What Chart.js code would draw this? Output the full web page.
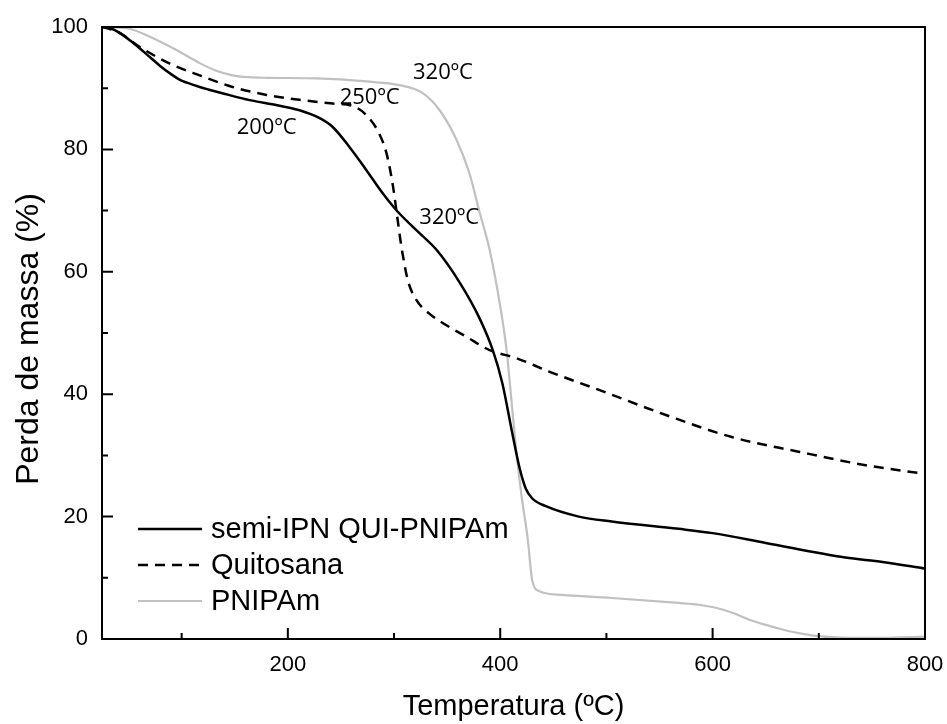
<!DOCTYPE html>
<html><head><meta charset="utf-8">
<script src="https://cdn.jsdelivr.net/npm/chart.js@4/dist/chart.umd.min.js"></script>
<style>html,body{margin:0;padding:0;background:#fff}#wrap{width:947px;height:724px;position:relative}</style>
</head><body><div id="wrap"><canvas id="c" width="947" height="724"></canvas></div>
<script>
// ---- data ----
const semiT = [25, 33, 42, 55, 70, 80, 90, 98, 105, 117, 125, 140, 164, 190, 211, 230, 242, 258, 274, 289, 302, 321, 340, 362, 380, 393, 402, 411.5, 418, 424, 430, 443, 474, 505, 568, 600, 650, 725, 760, 800];
const semiV = [100, 99.8, 99.0, 97.3, 95.1, 93.6, 92.3, 91.4, 90.9, 90.2, 89.8, 89.1, 88.05, 87.2, 86.4, 85.1, 83.7, 80.4, 76.6, 72.9, 70.1, 66.8, 63.6, 58.2, 52.6, 47.2, 41.8, 33.5, 28.1, 24.6, 23.0, 21.7, 20.0, 19.2, 18.0, 17.3, 15.7, 13.3, 12.6, 11.5];

const quiT = [25, 40, 61, 89, 117, 148, 180, 211, 242, 261, 274, 286, 293, 299, 303, 306, 308, 313, 321, 333, 349, 368, 390, 415, 446, 493, 556, 618, 681, 744, 787, 800];
const quiV = [100, 99.2, 96.7, 94.0, 92.1, 90.2, 88.9, 88.1, 87.5, 87.1, 85.6, 82.6, 79.3, 74.0, 69.0, 65.2, 63.0, 58.6, 55.4, 53.2, 51.3, 49.4, 47.2, 45.9, 43.7, 40.7, 36.6, 33.0, 30.6, 28.4, 27.3, 27.0];

const pnT = [25, 48.5, 70, 95.5, 117, 132, 148, 163, 180, 227, 274, 305, 327, 343, 359, 371, 380, 390, 399, 406, 410.5, 415, 420, 426, 430, 437, 458, 505, 568, 587, 603, 620, 634, 650, 665, 680, 697, 712, 728, 760, 800];
const pnV = [100, 99.8, 98.4, 96.2, 94.1, 92.9, 92.1, 91.8, 91.7, 91.6, 91.1, 90.5, 89.2, 86.4, 81.5, 76.1, 70.1, 63.6, 55.4, 47.2, 39.1, 30.9, 23.5, 16.2, 9.7, 7.8, 7.2, 6.7, 5.9, 5.6, 5.1, 4.2, 3.2, 2.3, 1.6, 1.0, 0.5, 0.3, 0.2, 0.2, 0.4];

const seriesNames = ['semi-IPN QUI-PNIPAm', 'Quitosana', 'PNIPAm'];

const xMajorTicks = [200, 400, 600, 800];
const xMinorTicks = [100, 300, 500, 700];
const yMajorTicks = [0, 20, 40, 60, 80, 100];
const yMinorTicks = [10, 30, 50, 70, 90];

const annoText = ['200ºC', '250ºC', '320ºC', '320ºC'];
const annoT = [180, 277, 346, 352];
const annoV = [83.6, 88.5, 92.5, 68.8];

const xTitle = 'Temperatura (ºC)';
const yTitle = 'Perda de massa (%)';

// ---- build ----
const zip = (a, b) => a.map((x, i) => ({x: x, y: b[i]}));
const SANS = '"Liberation Sans", Arial, sans-serif';

const frameTicks = {
  id: 'frameTicks',
  afterDatasetsDraw(chart) {
    const ctx = chart.ctx, ca = chart.chartArea;
    const xs = chart.scales.x, ys = chart.scales.y;
    ctx.save();
    ctx.strokeStyle = '#000';
    ctx.lineWidth = 2;
    ctx.lineCap = 'butt';
    ctx.beginPath();
    xMajorTicks.forEach(v => { const p = xs.getPixelForValue(v); ctx.moveTo(p, ca.bottom); ctx.lineTo(p, ca.bottom - 11); });
    xMinorTicks.forEach(v => { const p = xs.getPixelForValue(v); ctx.moveTo(p, ca.bottom); ctx.lineTo(p, ca.bottom - 6); });
    yMajorTicks.forEach(v => { const p = ys.getPixelForValue(v); ctx.moveTo(ca.left, p); ctx.lineTo(ca.left + 11, p); });
    yMinorTicks.forEach(v => { const p = ys.getPixelForValue(v); ctx.moveTo(ca.left, p); ctx.lineTo(ca.left + 6, p); });
    ctx.stroke();
    ctx.strokeRect(ca.left, ca.top, ca.right - ca.left, ca.bottom - ca.top);

    // annotations
    ctx.fillStyle = '#000';
    ctx.font = '22px "Open Sans", "DejaVu Sans", sans-serif';
    ctx.textAlign = 'center';
    ctx.textBaseline = 'middle';
    annoText.forEach((t, i) => ctx.fillText(t, xs.getPixelForValue(annoT[i]), ys.getPixelForValue(annoV[i])));

    // legend
    ctx.font = '29px ' + SANS;
    ctx.textAlign = 'left';
    chart.data.datasets.forEach((ds, i) => {
      const y = ca.bottom - 110 + i * 36;
      ctx.save();
      ctx.strokeStyle = ds.borderColor;
      ctx.lineWidth = ds.borderWidth;
      ctx.setLineDash(ds.borderDash || []);
      ctx.beginPath();
      ctx.moveTo(ca.left + 36, y);
      ctx.lineTo(ca.left + 100, y);
      ctx.stroke();
      ctx.restore();
      ctx.fillStyle = '#000';
      ctx.fillText(ds.label, ca.left + 109, y + 1);
    });

    // y axis title
    ctx.save();
    ctx.font = '32px ' + SANS;
    ctx.textAlign = 'center';
    ctx.textBaseline = 'middle';
    ctx.translate(29, (ca.top + ca.bottom) / 2 + 6);
    ctx.rotate(-Math.PI / 2);
    ctx.fillText(yTitle, 0, 0);
    ctx.restore();
    ctx.restore();
  }
};

new Chart(document.getElementById('c'), {
  type: 'line',
  data: {
    datasets: [
      {label: seriesNames[0], data: zip(semiT, semiV), borderColor: '#000000', borderWidth: 2.5, pointRadius: 0, cubicInterpolationMode: 'monotone', fill: false},
      {label: seriesNames[1], data: zip(quiT, quiV), borderColor: '#000000', borderWidth: 2.5, borderDash: [10, 7], pointRadius: 0, cubicInterpolationMode: 'monotone', fill: false},
      {label: seriesNames[2], data: zip(pnT, pnV), borderColor: '#c0c0c0', borderWidth: 2.2, pointRadius: 0, cubicInterpolationMode: 'monotone', fill: false}
    ]
  },
  options: {
    responsive: false,
    animation: false,
    devicePixelRatio: 1,
    layout: {padding: {left: 0, right: 22, top: 27, bottom: 0}},
    plugins: {legend: {display: false}, tooltip: {enabled: false}},
    scales: {
      x: {
        type: 'linear', min: 25, max: 800,
        afterBuildTicks: s => { s.ticks = xMajorTicks.map(v => ({value: v})); },
        afterFit: s => { s.height = 85; s.paddingLeft = 0; s.paddingRight = 0; },
        grid: {display: false, drawTicks: false},
        border: {display: false},
        ticks: {color: '#000', font: {family: SANS, size: 22}, padding: 13, maxRotation: 0, autoSkip: false},
        title: {display: true, text: xTitle, color: '#000', font: {family: SANS, size: 29}, padding: {top: 0, bottom: 0}}
      },
      y: {
        type: 'linear', min: 0, max: 100,
        afterBuildTicks: s => { s.ticks = yMajorTicks.map(v => ({value: v})); },
        afterFit: s => { s.width = 102; s.paddingTop = 0; s.paddingBottom = 0; },
        grid: {display: false, drawTicks: false},
        border: {display: false},
        ticks: {color: '#000', font: {family: SANS, size: 22}, padding: 14},
        title: {display: false}
      }
    }
  },
  plugins: [frameTicks]
});
</script>
</body></html>
